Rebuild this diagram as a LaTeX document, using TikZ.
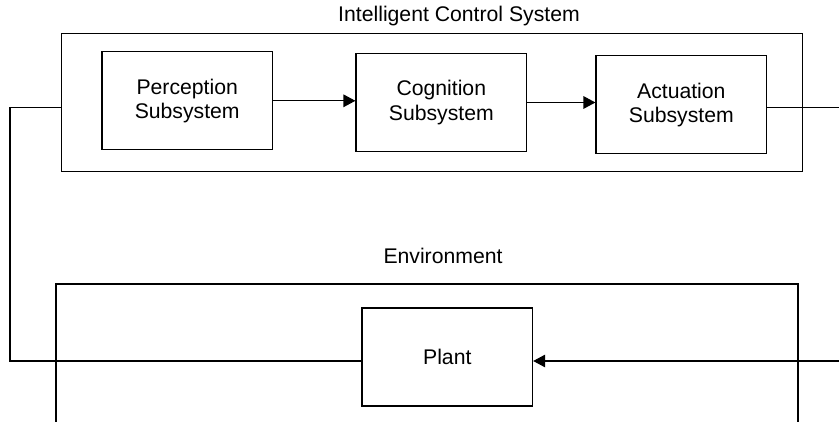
\documentclass[tikz,border=0pt]{standalone}
\usepackage{fontspec}
\setmainfont{Liberation Sans}
\usetikzlibrary{arrows.meta}

\tikzset{
	blk/.style={draw,line width=0.6pt,align=center,inner sep=0pt,
		minimum width=85.3pt,minimum height=49pt,
		font=\fontsize{10.6}{12.2}\selectfont},
	frm/.style={draw,line width=0.6pt,inner sep=0pt},
	lbl/.style={anchor=base,font=\fontsize{10.6}{12.2}\selectfont},
	arr/.style={line width=0.6pt,-{Triangle[length=6pt,width=6.3pt]}},
	ln/.style={line width=0.6pt}
}

\begin{document}
\begin{tikzpicture}[x=0.5pt,y=0.5pt]
				\useasboundingbox (0,0) rectangle (839,-422);
				% the control system
				\node[frm,minimum width=370.3pt,minimum height=69.2pt] (ics) at (432,-102.5) {};
				\node[lbl] (icslabel) at (459,-21.5) {Intelligent Control System};
				\node[blk] (perception) at (187.2,-100.8) {Perception\\Subsystem};
				\node[blk] (cognition) at (441.3,-102.5) {Cognition\\Subsystem};
				\node[blk] (actuation) at (681.3,-104.8) {Actuation\\Subsystem};
				\draw[arr] (perception.east) -- (perception.east -| cognition.west);
				\draw[arr] (cognition.east) -- (cognition.east -| actuation.west);
				% the environment, open at the bottom
				\node[lbl] (envlabel) at (443,-263) {Environment};
				\draw[ln] (56,-422) -- (56,-284) -- (798,-284) -- (798,-422);
				\node[blk] (plant) at (447.3,-357) {Plant};
				% the loop, cut by the edges
				\coordinate (outR) at (839,-107.3);
				\coordinate (inR) at (839,-361);
				\coordinate (fbtop) at (10,-107.3);
				\coordinate (fbbot) at (10,-361);
				\draw[ln] (actuation.east |- outR) -- (outR);
				\draw[arr] (inR) -- (inR -| plant.east);
				\draw[ln] (ics.west |- fbtop) -- (fbtop) -- (fbbot) -- (fbbot -| plant.west);
			\end{tikzpicture}
\end{document}
